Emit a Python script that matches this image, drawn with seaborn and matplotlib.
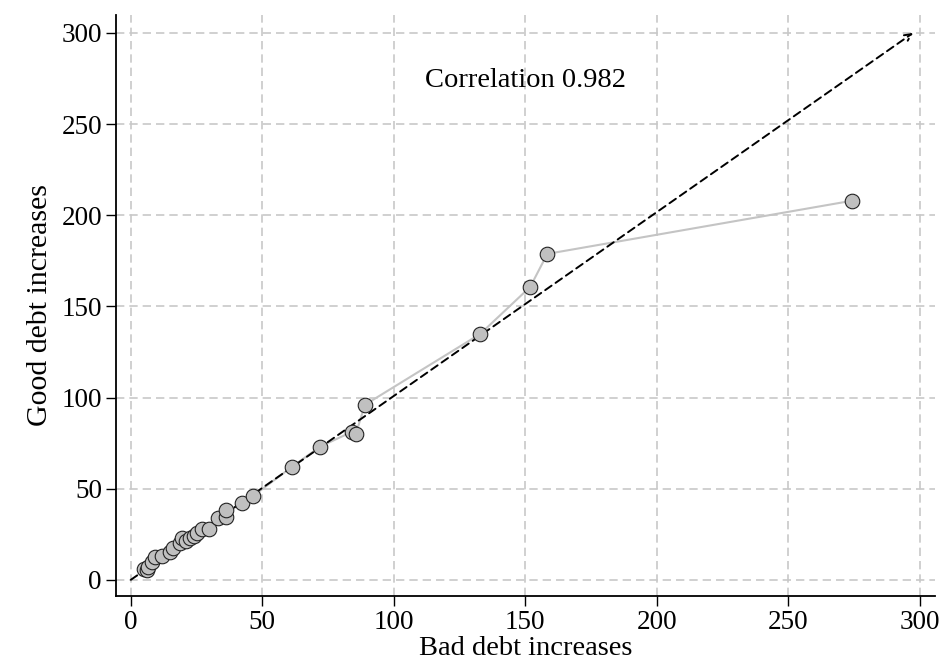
import matplotlib
matplotlib.use("Agg")
import matplotlib.pyplot as plt
import seaborn as sns
import pandas as pd

bad_debt = [4.9, 6.0, 6.6, 7.9, 9.1, 12.0, 14.8, 16.1, 18.7, 19.6, 21.0, 22.5, 24.0,
            25.3, 26.9, 29.8, 33.2, 36.2, 36.2, 42.1, 46.5, 61.3, 71.9, 84.1, 85.6,
            89.0, 132.9, 151.9, 158.4, 274.1]
good_debt = [5.9, 5.5, 7.3, 10.0, 12.5, 13.0, 15.5, 17.4, 20.1, 22.9, 21.5, 22.9, 24.0,
             25.6, 27.8, 27.8, 33.8, 34.7, 38.4, 42.1, 46.0, 62.0, 73.0, 81.2, 80.1,
             96.0, 134.9, 160.7, 178.8, 207.9]
ticks = [0, 50, 100, 150, 200, 250, 300]
corr_text = "Correlation 0.982"

df = pd.DataFrame({"bad": bad_debt, "good": good_debt})

sns.set_theme(style="white")
plt.rcParams["font.family"] = ["Liberation Serif", "DejaVu Serif"]

fig = plt.figure(figsize=(9.42, 6.68), dpi=100)
ax = fig.add_axes([0.123, 0.108, 0.870, 0.870])

sns.lineplot(data=df, x="bad", y="good", sort=True, color="#c4c4c4", lw=1.5, ax=ax, zorder=2)
ax.annotate("", xy=(297.5, 300), xytext=(0, 0),
            arrowprops=dict(arrowstyle="->", linestyle=(0, (4, 2.5)), color="black",
                            lw=1.4, shrinkA=0, shrinkB=0), zorder=3)
sns.scatterplot(data=df, x="bad", y="good", s=110, color="#c0c0c0", edgecolor="#222222",
                linewidth=0.8, ax=ax, zorder=4)

ax.set_xlim(-5.7, 306)
ax.set_ylim(-8.8, 310)
ax.set_xticks(ticks)
ax.set_yticks(ticks)
ax.grid(True, color="#c8c8c8", linestyle=(0, (5, 3)), lw=1.2)
ax.set_axisbelow(True)
for s in ["top", "right"]:
    ax.spines[s].set_visible(False)
for s in ["left", "bottom"]:
    ax.spines[s].set_color("black")
    ax.spines[s].set_linewidth(1.3)
ax.tick_params(axis="both", which="major", direction="out", length=7, width=1,
               color="black", labelsize=19.5, bottom=True, left=True, labelcolor="black",
               pad=3)
ax.set_xlabel("Bad debt increases", fontsize=20.5, color="black", labelpad=1)
ax.set_ylabel("Good debt increases", fontsize=21.5, color="black", labelpad=6)
ax.text(150, 274, corr_text, fontsize=20.5, ha="center", va="center", color="black")

fig.savefig("out.png", dpi=100)
